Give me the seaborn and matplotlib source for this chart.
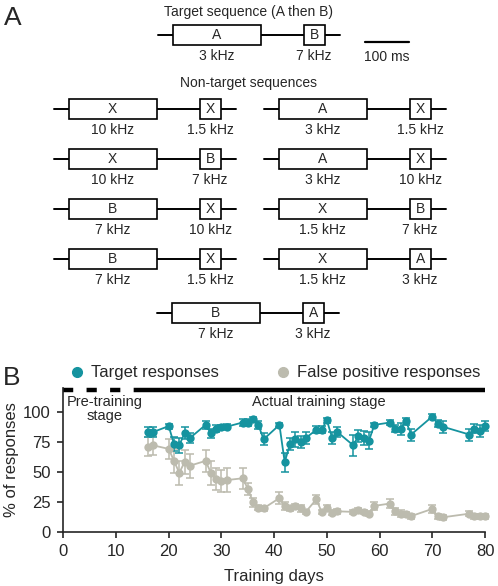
import matplotlib
matplotlib.use("Agg")
import matplotlib.pyplot as plt
from matplotlib.lines import Line2D
from matplotlib.patches import Rectangle
import pandas as pd
import seaborn as sns

# ---- panel B data ----
days = [16, 17, 20, 21, 22, 23, 24, 27, 28, 29, 30, 31, 34, 35, 36, 37, 38,
        41, 42, 43, 44, 45, 46, 48, 49, 50, 51, 52, 55, 56, 57, 58, 59,
        62, 63, 64, 65, 66, 70, 71, 72, 77, 78, 79, 80]
target_pct = [83, 83, 88, 73, 72, 82, 78, 89, 82, 86, 87, 87.5, 91, 91, 94, 89, 77,
              89, 58, 73, 77, 75, 78, 85, 85, 93, 78, 83, 72, 80, 78, 76, 89,
              91, 86, 86, 92, 81, 96, 90, 87.5, 81, 86, 84, 88]
target_err = [4, 4, 2, 6, 6, 5, 4, 3, 4, 3, 2, 2, 3, 3, 2, 3, 5,
              2, 8, 5, 6, 5, 5, 3, 3, 2, 5, 4, 9, 5, 6, 7, 2,
              2, 3, 5, 3, 5, 2, 3, 5, 5, 4, 5, 4]
false_pct = [71, 72, 69, 59, 49, 58, 55, 59, 49, 44, 42.5, 43, 44.5, 36, 24.5, 20, 19.5,
             28, 21.5, 19.5, 21.5, 19.5, 16.5, 27, 16.5, 20, 16, 17, 16.5, 18, 16.5, 15, 21.5,
             23.5, 17, 15, 14.5, 13, 19, 13, 12, 15, 13, 13, 13]
false_err = [8, 8, 8, 10, 10, 10, 10, 9, 10, 9, 9, 10, 9, 5, 4, 2, 2,
             5, 3, 2, 2, 3, 2, 4, 2, 2, 2, 2, 2, 2, 2, 2, 3,
             4, 3, 3, 2, 2, 3, 2, 2, 2, 2, 2, 2]

stage_bounds = [0, 15, 80]
stage_labels = ["Pre-training\nstage", "Actual training stage"]
x_ticks = [0, 10, 20, 30, 40, 50, 60, 70, 80]
y_ticks = [0, 25, 50, 75, 100]

# ---- panel A data ----
target_seq = (("A", "3 kHz"), ("B", "7 kHz"))
nontarget_left = [
    (("X", "10 kHz"), ("X", "1.5 kHz")),
    (("X", "10 kHz"), ("B", "7 kHz")),
    (("B", "7 kHz"), ("X", "10 kHz")),
    (("B", "7 kHz"), ("X", "1.5 kHz")),
]
nontarget_right = [
    (("A", "3 kHz"), ("X", "1.5 kHz")),
    (("A", "3 kHz"), ("X", "10 kHz")),
    (("X", "1.5 kHz"), ("B", "7 kHz")),
    (("X", "1.5 kHz"), ("A", "3 kHz")),
]
nontarget_last = (("B", "7 kHz"), ("A", "3 kHz"))

lead_ms, long_ms, gap_ms, short_ms, tail_ms = 33, 200, 98, 48, 35
scale_ms = 100
px_per_ms = 0.44

TEAL = "#15939f"
GRAY = "#bcbbae"


def draw_sequence(ax, x0, yc, seq):
    (lab1, f1), (lab2, f2) = seq
    total = (lead_ms + long_ms + gap_ms + short_ms + tail_ms) * px_per_ms
    ax.plot([x0, x0 + total], [yc, yc], color="black", lw=1.4, zorder=1)
    b1 = x0 + lead_ms * px_per_ms
    w1 = long_ms * px_per_ms
    b2 = b1 + w1 + gap_ms * px_per_ms
    w2 = short_ms * px_per_ms
    h = 20
    for left, width, lab, freq in [(b1, w1, lab1, f1), (b2, w2, lab2, f2)]:
        ax.add_patch(Rectangle((left, yc - h / 2), width, h, facecolor="white",
                               edgecolor="black", lw=1.2, zorder=2))
        ax.text(left + width / 2, yc, lab, ha="center", va="center", fontsize=10, zorder=3)
        ax.text(left + width / 2, yc + 21, freq, ha="center", va="center", fontsize=10)


def main() -> None:
    sns.set_theme(style="ticks")
    plt.rcParams["font.family"] = ["Liberation Sans", "DejaVu Sans"]

    fig = plt.figure(figsize=(4.98, 5.86), dpi=100)

    # panel A in pixel-like coordinates
    ax_a = fig.add_axes([0, 0, 1, 1])
    ax_a.set_xlim(0, 498)
    ax_a.set_ylim(586, 0)
    ax_a.axis("off")

    ax_a.text(4, 18, "A", fontsize=19, ha="left", va="center")
    ax_a.text(249, 12, "Target sequence (A then B)", ha="center", va="center", fontsize=10)
    draw_sequence(ax_a, 158, 35, target_seq)
    ax_a.plot([365, 365 + scale_ms * px_per_ms], [42, 42], color="black", lw=1.6)
    ax_a.text(387, 57, "100 ms", ha="center", va="center", fontsize=10)
    ax_a.text(248, 83, "Non-target sequences", ha="center", va="center", fontsize=10)
    for i, (seq_l, seq_r) in enumerate(zip(nontarget_left, nontarget_right)):
        yc = 109 + 50 * i
        draw_sequence(ax_a, 54, yc, seq_l)
        draw_sequence(ax_a, 264, yc, seq_r)
    draw_sequence(ax_a, 157, 313, nontarget_last)

    # panel B
    ax_b = fig.add_axes([63.3 / 498, 54.3 / 586, 421.7 / 498, 144 / 586])
    df = pd.DataFrame({"day": days + days,
                       "pct": target_pct + false_pct,
                       "err": target_err + false_err,
                       "kind": ["Target responses"] * len(days)
                               + ["False positive responses"] * len(days)})
    palette = {"Target responses": TEAL, "False positive responses": GRAY}
    for kind in ["False positive responses", "Target responses"]:
        sub = df[df["kind"] == kind]
        ax_b.errorbar(sub["day"], sub["pct"], yerr=sub["err"], fmt="none",
                      ecolor=palette[kind], elinewidth=1.1, capsize=3, capthick=1.1,
                      clip_on=False, zorder=2)
    sns.lineplot(data=df, x="day", y="pct", hue="kind", palette=palette,
                 hue_order=["False positive responses", "Target responses"],
                 marker="o", markersize=6, markeredgewidth=0, lw=1.3,
                 legend=False, ax=ax_b, zorder=3, clip_on=False)

    ax_b.set_xlim(0, 80)
    ax_b.set_ylim(0, 120)
    ax_b.set_xticks(x_ticks)
    ax_b.set_yticks(y_ticks)
    ax_b.tick_params(labelsize=12, length=4, width=1.2, pad=5)
    for side in ["left", "bottom"]:
        ax_b.spines[side].set_linewidth(1.2)
    sns.despine(ax=ax_b)
    ax_b.set_xlabel("Training days", fontsize=12, labelpad=7)
    ax_b.set_ylabel("% of responses", fontsize=12, labelpad=3)

    ax_b.plot(stage_bounds[:2], [118, 118], color="black", lw=3.2,
              dashes=(2.3, 3.0), clip_on=False, solid_capstyle="butt", dash_capstyle="butt")
    ax_b.plot(stage_bounds[1:], [118, 118], color="black", lw=3.2,
              clip_on=False, solid_capstyle="butt")
    ax_b.text((stage_bounds[0] + stage_bounds[1]) / 2 + 0.3, 114, stage_labels[0],
              ha="center", va="top", fontsize=10.5, linespacing=1.05)
    ax_b.text(48.5, 114, stage_labels[1], ha="center", va="top", fontsize=10.5)

    handles = [Line2D([], [], marker="o", ls="none", color=TEAL, markersize=7, label="Target responses"),
               Line2D([], [], marker="o", ls="none", color=GRAY, markersize=7, label="False positive responses")]
    fig.legend(handles=handles, ncol=2, loc="center left", bbox_to_anchor=(0.145, 1 - 373 / 586),
               frameon=False, fontsize=12, handlelength=0.6, handletextpad=0.5,
               columnspacing=3.6, borderaxespad=0, borderpad=0)
    fig.text(3 / 498, 1 - 378 / 586, "B", fontsize=19, ha="left", va="center")

    fig.savefig("out.png", dpi=100)
    plt.close(fig)


if __name__ == "__main__":
    main()
